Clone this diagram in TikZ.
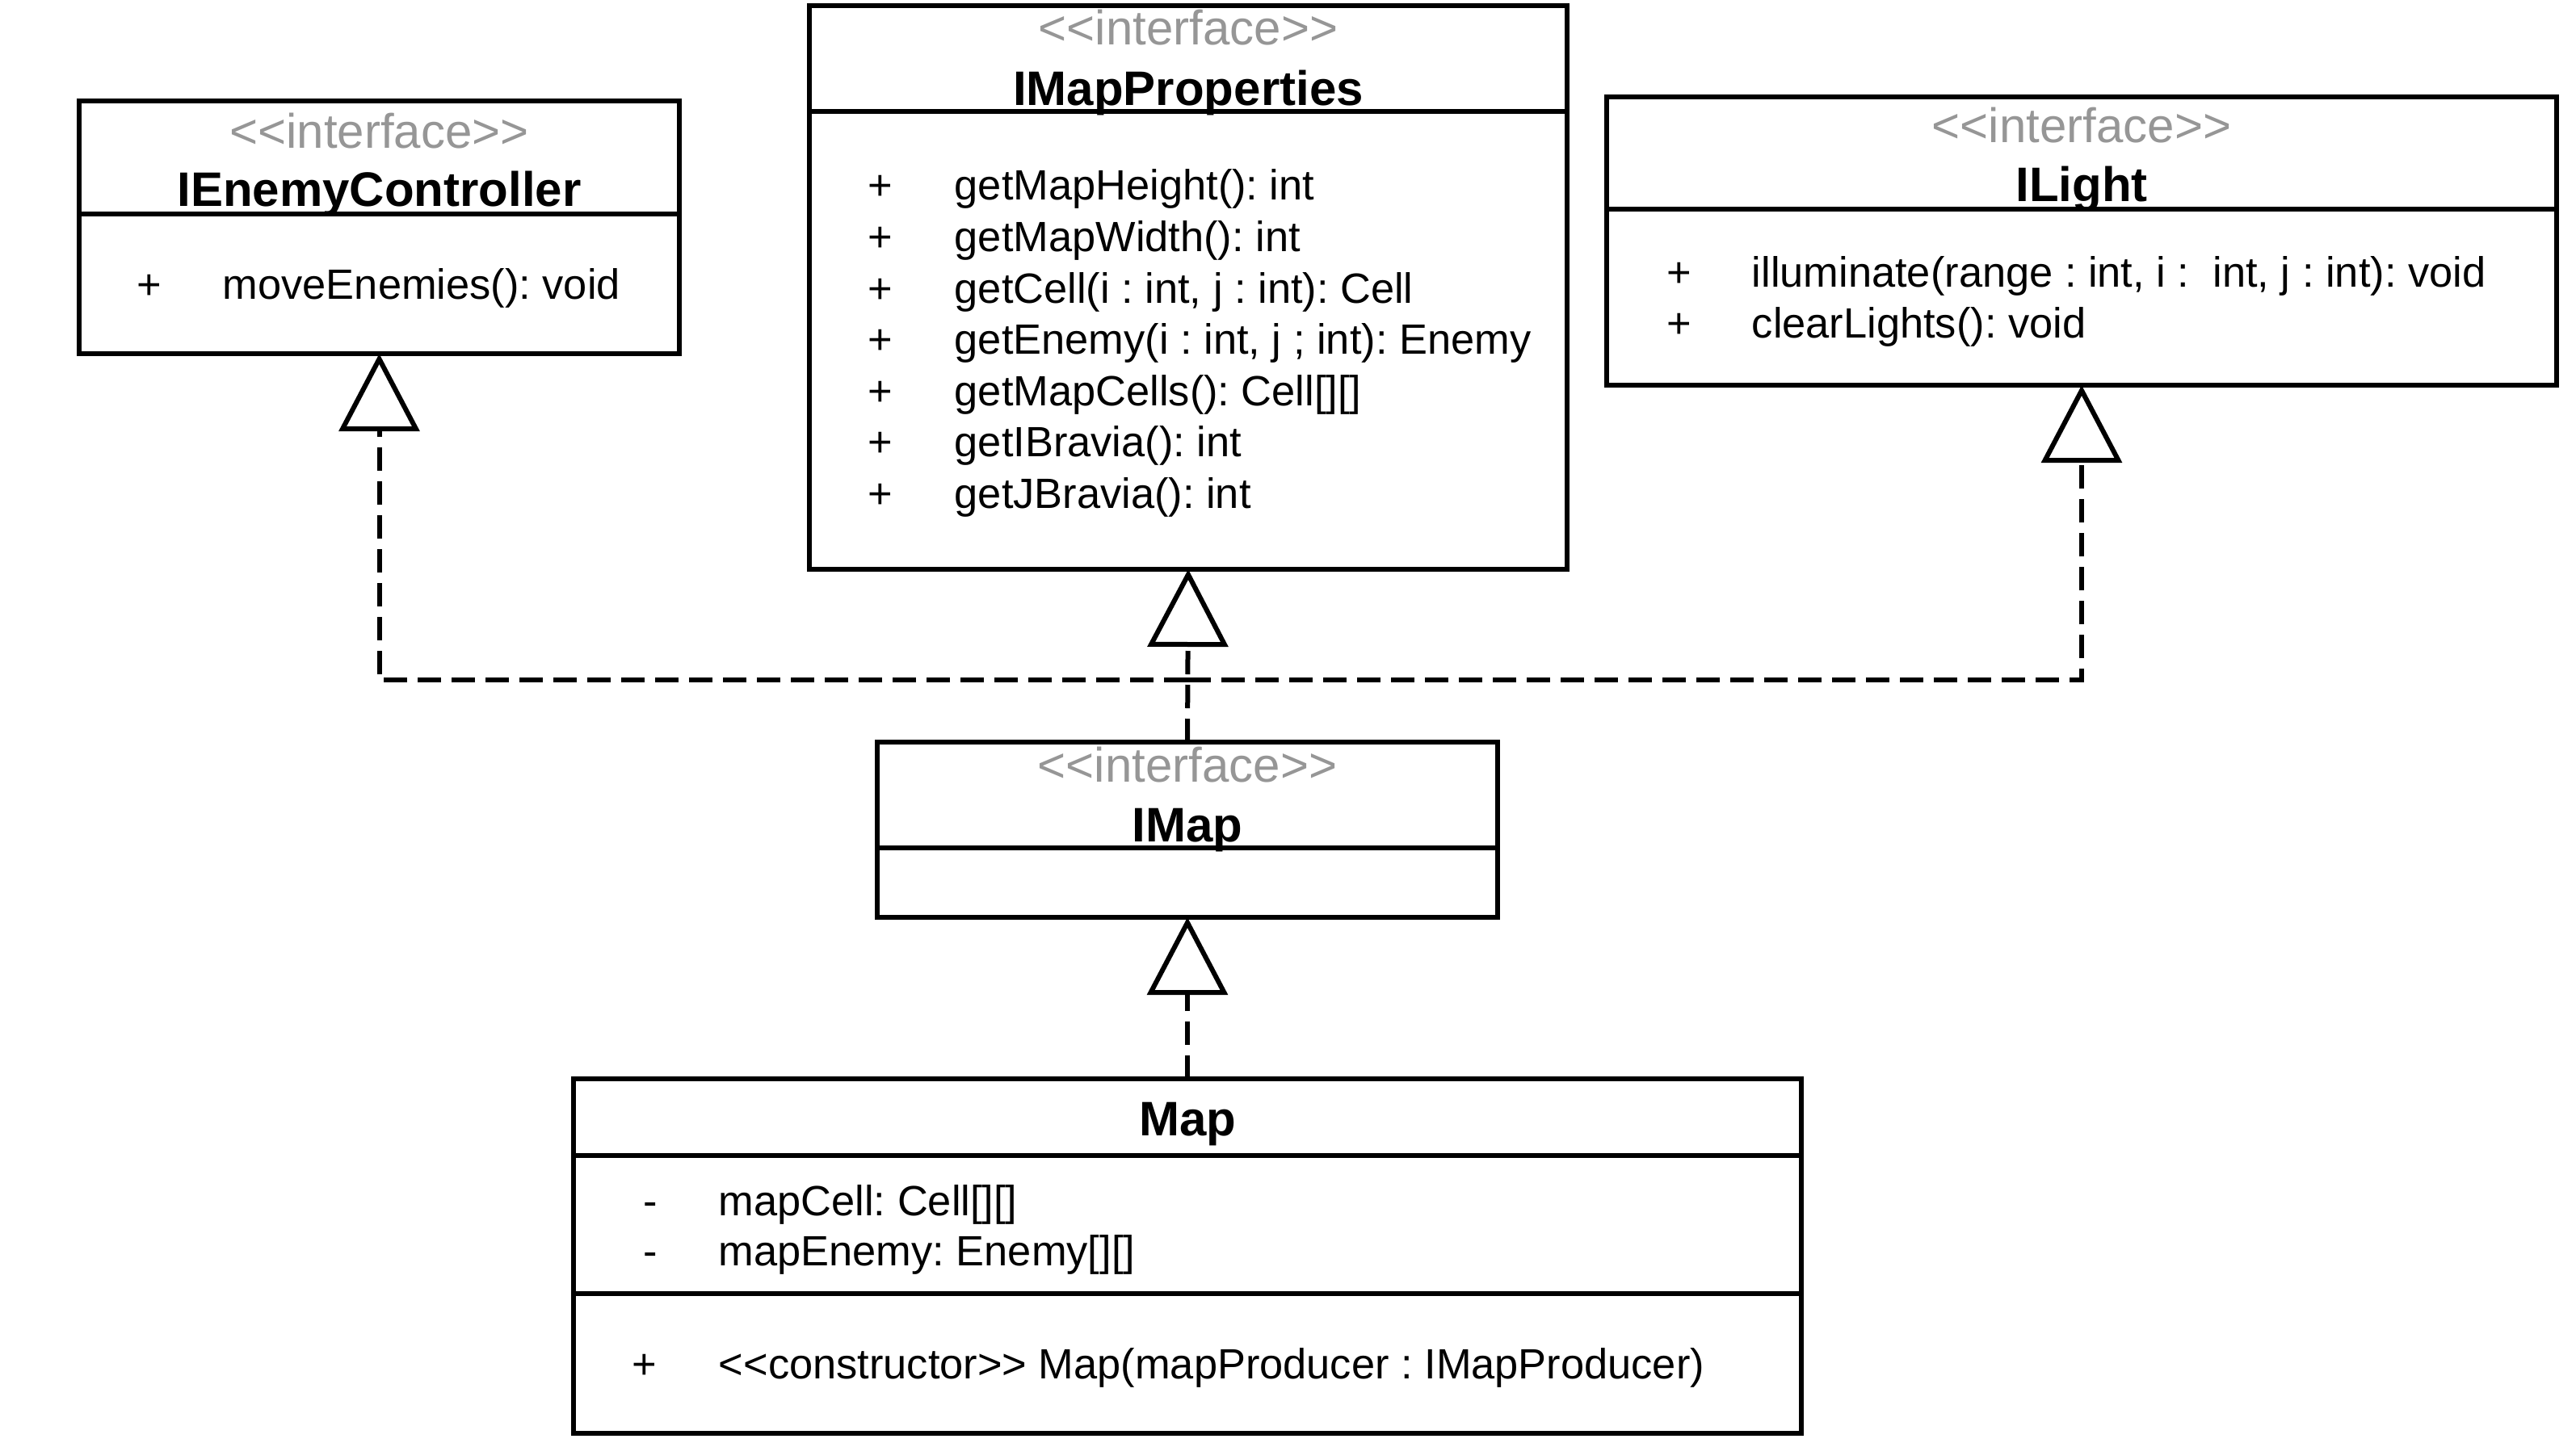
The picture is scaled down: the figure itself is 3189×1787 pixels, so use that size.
\documentclass[tikz,border=0pt]{standalone}
\usepackage{fontspec}
\setmainfont{Liberation Sans}
\usetikzlibrary{arrows.meta}
\definecolor{stereo}{RGB}{150,150,150}
\frenchspacing
\newcommand{\stereolabel}[1]{<{}<#1>{}>}
\begin{document}
\begin{tikzpicture}[x=0.25pt,y=-0.25pt,
  umlbox/.style={draw, line width=1.5pt, inner sep=0pt, outer sep=0pt},
  sepline/.style={line width=1.5pt},
  bodytxt/.style={inner sep=0pt, anchor=base west, font=\fontsize{13.1pt}{15.7pt}\selectfont},
  vis/.style={inner sep=0pt, anchor=base, font=\fontsize{13.1pt}{15.7pt}\selectfont},
  titletxt/.style={inner sep=0pt, anchor=base, font=\fontsize{15pt}{18pt}\selectfont\bfseries},
  stereotxt/.style={inner sep=0pt, anchor=base, text=stereo, font=\fontsize{15pt}{18pt}\selectfont},
  realize/.style={line width=1.5pt, dash pattern=on 7.25pt off 3.25pt,
    -{Triangle[open, length=24pt, width=24.8pt]}}
]
\useasboundingbox (0,0) rectangle (3189,1787);

% ---------- IEnemyController ----------
\node[umlbox, minimum width=185.75pt, minimum height=78.25pt] (iec) at (469.5,281.5) {};
\draw[sepline] (iec.west |- 0,265) -- (iec.east |- 0,265);
\node[stereotxt] (iec-st) at (469.5,183) {\stereolabel{interface}};
\node[titletxt] (iec-t) at (469.5,255) {IEnemyController};
\node[vis] (iec-v1) at (185,370) {+};
\node[bodytxt] (iec-m1) at (275,370) {moveEnemies(): void};

% ---------- IMapProperties ----------
\node[umlbox, minimum width=234.5pt, minimum height=174.5pt] (imp) at (1471,356) {};
\draw[sepline] (imp.west |- 0,138) -- (imp.east |- 0,138);
\node[stereotxt] (imp-st) at (1471,56) {\stereolabel{interface}};
\node[titletxt] (imp-t) at (1471,131) {IMapProperties};
\foreach \txt [count=\i from 0] in {getMapHeight(): int, getMapWidth(): int,
  {getCell(i : int, j : int): Cell}, {getEnemy(i : int, j ; int): Enemy},
  getMapCells(): Cell[][], getIBravia(): int, getJBravia(): int}{
  \node[vis] (imp-v\i) at (1090,248+63.5*\i) {+};
  \node[bodytxt] (imp-m\i) at (1181,248+63.5*\i) {\txt};
}

% ---------- ILight ----------
\node[umlbox, minimum width=294pt, minimum height=89.25pt] (il) at (2577,298.5) {};
\draw[sepline] (il.west |- 0,259) -- (il.east |- 0,259);
\node[stereotxt] (il-st) at (2577,177) {\stereolabel{interface}};
\node[titletxt] (il-t) at (2577,249.5) {ILight};
\node[vis] (il-v1) at (2079,355) {+};
\node[bodytxt] (il-m1) at (2168,355) {illuminate(range : int, i :~ int, j : int): void};
\node[vis] (il-v2) at (2079,418) {+};
\node[bodytxt] (il-m2) at (2168,418) {clearLights(): void};

% ---------- IMap ----------
\node[umlbox, minimum width=192pt, minimum height=54.25pt] (imap) at (1470,1027.5) {};
\draw[sepline] (imap.west |- 0,1050) -- (imap.east |- 0,1050);
\node[stereotxt] (imap-st) at (1470,968) {\stereolabel{interface}};
\node[titletxt] (imap-t) at (1470,1042) {IMap};

% ---------- Map ----------
\node[umlbox, minimum width=380pt, minimum height=109.75pt] (map) at (1470,1555.5) {};
\draw[sepline] (map.west |- 0,1431) -- (map.east |- 0,1431);
\draw[sepline] (map.west |- 0,1602) -- (map.east |- 0,1602);
\node[titletxt] (map-t) at (1470,1406) {Map};
\node[vis] (map-v1) at (805,1505) {-};
\node[bodytxt] (map-a1) at (889,1505) {mapCell: Cell[][]};
\node[vis] (map-v2) at (805,1567) {-};
\node[bodytxt] (map-a2) at (889,1567) {mapEnemy: Enemy[][]};
\node[vis] (map-v3) at (798,1707) {+};
\node[bodytxt] (map-c1) at (889,1707) {\stereolabel{constructor} Map(mapProducer : IMapProducer)};

% ---------- connectors ----------
\coordinate (jn) at (1470,842);
\draw[realize] (imap.north) -- (imp.south);
\draw[realize] (jn) -| (iec.south);
\draw[realize] (jn) -| (il.south);
\draw[realize] (map.north) -- (imap.south);
\end{tikzpicture}
\end{document}
